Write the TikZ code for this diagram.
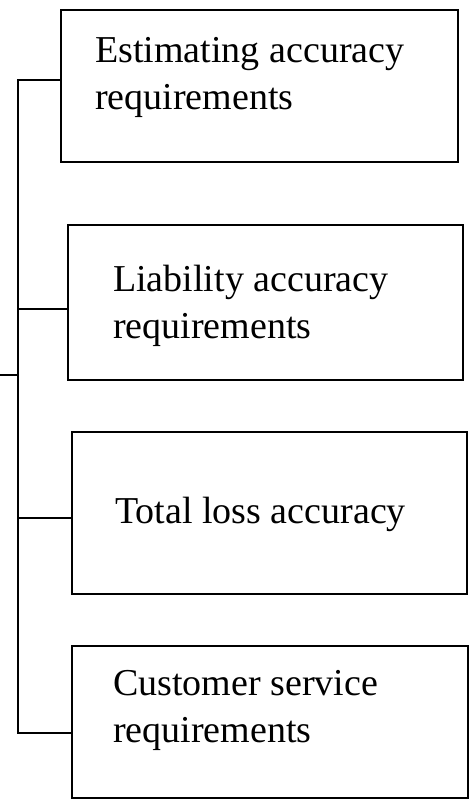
\documentclass[tikz,border=0pt]{standalone}
\usepackage{fontspec}
\setmainfont{Liberation Serif}
\begin{document}
\begin{tikzpicture}[x=1pt,y=-1pt,
  boxnode/.style={draw, line width=2.8pt, rectangle, inner sep=0pt},
  lbl/.style={anchor=base west, inner sep=0pt, align=left,
    font=\fontsize{38}{47}\selectfont},
  conn/.style={line width=2.6pt}]
\useasboundingbox (0,0) rectangle (474,810);
\fill[white] (0,0) rectangle (474,810);
% boxes
\node[boxnode, minimum width=397pt, minimum height=152pt] (b1) at (259.5,86) {};
\node[boxnode, minimum width=395pt, minimum height=155pt] (b2) at (265.5,302.5) {};
\node[boxnode, minimum width=395pt, minimum height=162pt] (b3) at (269.5,513) {};
\node[boxnode, minimum width=396pt, minimum height=152pt] (b4) at (270,722) {};
% labels (multi-line nodes are anchored at their last baseline)
\node[lbl] (t1) at (95,110) {Estimating accuracy\\requirements};
\node[lbl] (t2) at (113,338) {Liability accuracy\\requirements};
\node[lbl] (t3) at (115,523) {Total loss accuracy};
\node[lbl] (t4) at (113,742) {Customer service\\requirements};
% spine
\coordinate (s1) at (18,80);
\coordinate (s2) at (18,309);
\coordinate (s3) at (18,518);
\coordinate (s4) at (18,733);
\coordinate (sm) at (18,375);
\coordinate (root) at (0,375);
\draw[conn, line join=miter] (s1 -| b1.west) -- (s1) -- (s4) -- (s4 -| b4.west);
\draw[conn] (s2) -- (s2 -| b2.west);
\draw[conn] (s3) -- (s3 -| b3.west);
\draw[conn] (root) -- (sm);
\end{tikzpicture}
\end{document}
